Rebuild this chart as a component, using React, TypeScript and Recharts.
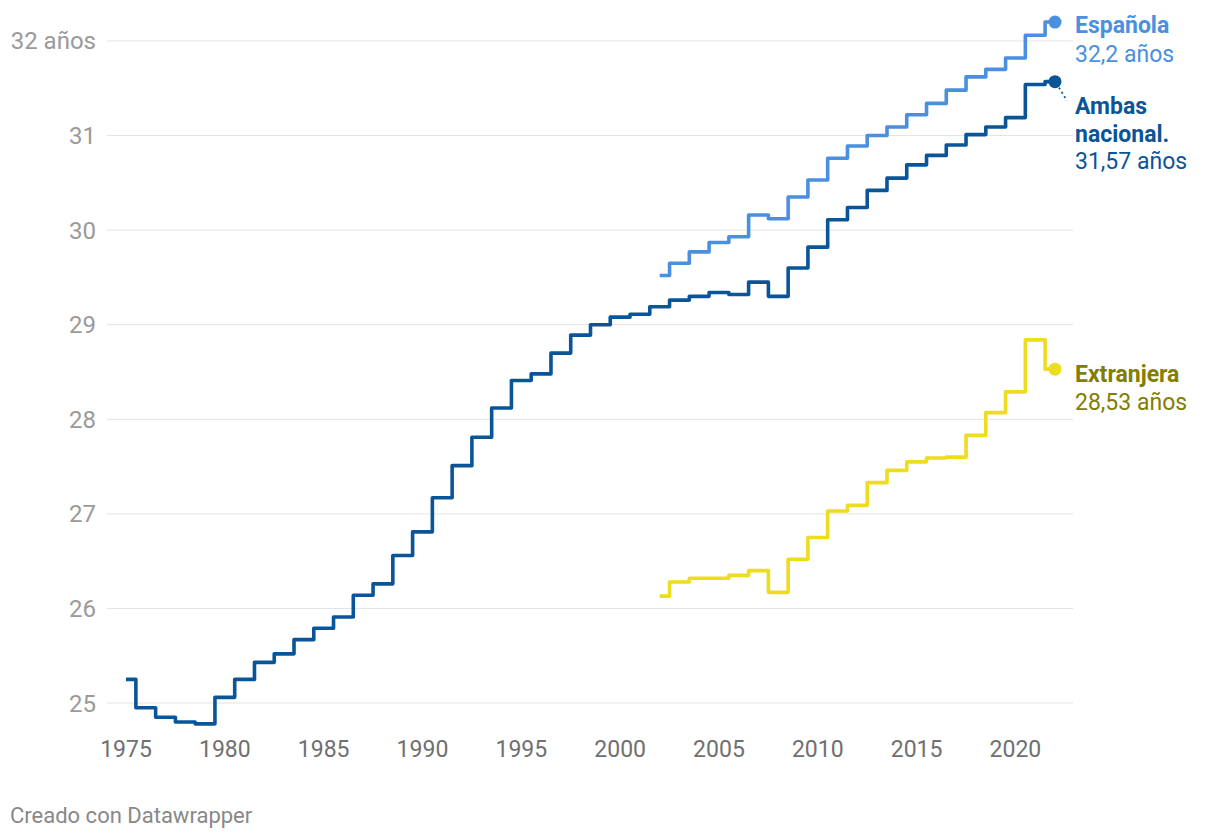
import { LineChart, Line, XAxis, YAxis, CartesianGrid } from 'recharts';

const YEARS = [
  1975, 1976, 1977, 1978, 1979, 1980, 1981, 1982, 1983, 1984, 1985, 1986,
  1987, 1988, 1989, 1990, 1991, 1992, 1993, 1994, 1995, 1996, 1997, 1998,
  1999, 2000, 2001, 2002, 2003, 2004, 2005, 2006, 2007, 2008, 2009, 2010,
  2011, 2012, 2013, 2014, 2015, 2016, 2017, 2018, 2019, 2020, 2021, 2022,
];

// Ambas nacionalidades, 1975-2022
const AMBAS = [
  25.25, 24.95, 24.85, 24.8, 24.78, 25.06, 25.25, 25.43, 25.52, 25.67, 25.79, 25.91,
  26.14, 26.26, 26.56, 26.81, 27.17, 27.51, 27.81, 28.12, 28.41, 28.48, 28.7, 28.89,
  29.0, 29.08, 29.11, 29.19, 29.26, 29.3, 29.34, 29.32, 29.45, 29.3, 29.6, 29.82,
  30.11, 30.24, 30.42, 30.55, 30.69, 30.79, 30.9, 31.01, 31.09, 31.19, 31.54, 31.57,
];

// Española / Extranjera, desde 2002
const SERIES_START = 2002;
const ESPANOLA = [
  29.52, 29.65, 29.77, 29.87, 29.93, 30.16, 30.12, 30.35, 30.53, 30.76, 30.89,
  31.0, 31.09, 31.22, 31.34, 31.48, 31.62, 31.7, 31.82, 32.06, 32.2,
];
const EXTRANJERA = [
  26.13, 26.28, 26.32, 26.32, 26.35, 26.4, 26.17, 26.52, 26.75, 27.03, 27.09,
  27.33, 27.46, 27.55, 27.59, 27.6, 27.83, 28.07, 28.29, 28.84, 28.53,
];

const X_TICKS = [1975, 1980, 1985, 1990, 1995, 2000, 2005, 2010, 2015, 2020];
const Y_TICKS = [25, 26, 27, 28, 29, 30, 31, 32];

const LABEL_ESP = ['Española', '32,2 años'];
const LABEL_AMBAS = ['Ambas', 'nacional.', '31,57 años'];
const LABEL_EXT = ['Extranjera', '28,53 años'];

const C_ESP = '#4a8fe0';
const C_AMBAS = '#0a5598';
const C_EXT = '#eedc1e';
const C_EXT_TEXT = '#837d00';

const FONT = 'Roboto, sans-serif';

const data = YEARS.map((year, i) => {
  const j = year - SERIES_START;
  return {
    year,
    ambas: AMBAS[i],
    esp: j >= 0 ? ESPANOLA[j] : null,
    ext: j >= 0 ? EXTRANJERA[j] : null,
  };
});

const LAST = YEARS.length - 1;

// end dot + label, placed relative to the last point
function endMarker(color: string, textColor: string, lines: string[], offsets: number[], boldLines: number, connector = false) {
  return (props: any) => {
    const { cx, cy, index } = props;
    if (index !== LAST || cx == null || cy == null) return <g key={`e-${index}`} />;
    return (
      <g key={`e-${index}`}>
        {connector && (
          <line x1={cx + 4} y1={cy + 6} x2={cx + 12} y2={cy + 19} stroke={color} strokeWidth={1.8} strokeDasharray="2 3" />
        )}
        <circle cx={cx} cy={cy} r={6.5} fill={color} />
        {lines.map((t, k) => (
          <text
            key={k}
            x={cx + 20}
            y={cy + offsets[k]}
            fill={textColor}
            fontFamily={FONT}
            fontSize={23}
            fontWeight={k < boldLines ? 700 : 400}
          >
            {t}
          </text>
        ))}
      </g>
    );
  };
}

export default function App() {
  return (
    <div style={{ position: 'absolute', left: 0, top: 0, width: 1220, height: 840, background: '#fff' }}>
      <LineChart
        width={1220}
        height={840}
        data={data}
        margin={{ top: 12.6, right: 147, bottom: 78.6, left: 0 }}
      >
        <CartesianGrid vertical={false} horizontalValues={Y_TICKS} stroke="#e3e3e3" strokeWidth={1} />
        <XAxis
          dataKey="year"
          type="number"
          domain={[1974.039, 2022.911]}
          ticks={X_TICKS}
          axisLine={false}
          tickLine={false}
          tickMargin={3.6}
          height={30}
          tick={{ fill: '#707070', fontSize: 23, fontFamily: FONT }}
        />
        <YAxis
          type="number"
          domain={[24.7, 32.3]}
          ticks={Y_TICKS}
          axisLine={false}
          tickLine={false}
          tickMargin={5}
          width={107}
          tickFormatter={(v: number) => (v === 32 ? '32 años' : String(v))}
          tick={{ fill: '#9a9a9a', fontSize: 24, fontFamily: FONT }}
        />
        <Line
          type="step"
          dataKey="ext"
          stroke={C_EXT}
          strokeWidth={3.6}
          strokeLinejoin="round"
          dot={endMarker(C_EXT, C_EXT_TEXT, LABEL_EXT, [13, 41], 1)}
          activeDot={false}
          isAnimationActive={false}
        />
        <Line
          type="step"
          dataKey="esp"
          stroke={C_ESP}
          strokeWidth={3.6}
          strokeLinejoin="round"
          dot={endMarker(C_ESP, C_ESP, LABEL_ESP, [11, 40], 1)}
          activeDot={false}
          isAnimationActive={false}
        />
        <Line
          type="step"
          dataKey="ambas"
          stroke={C_AMBAS}
          strokeWidth={3.6}
          strokeLinejoin="round"
          dot={endMarker(C_AMBAS, C_AMBAS, LABEL_AMBAS, [32, 60, 87], 2, true)}
          activeDot={false}
          isAnimationActive={false}
        />
      </LineChart>
      <div
        style={{
          position: 'absolute',
          left: 10,
          top: 803,
          fontFamily: FONT,
          fontSize: 22,
          color: '#888',
        }}
      >
        Creado con Datawrapper
      </div>
    </div>
  );
}
